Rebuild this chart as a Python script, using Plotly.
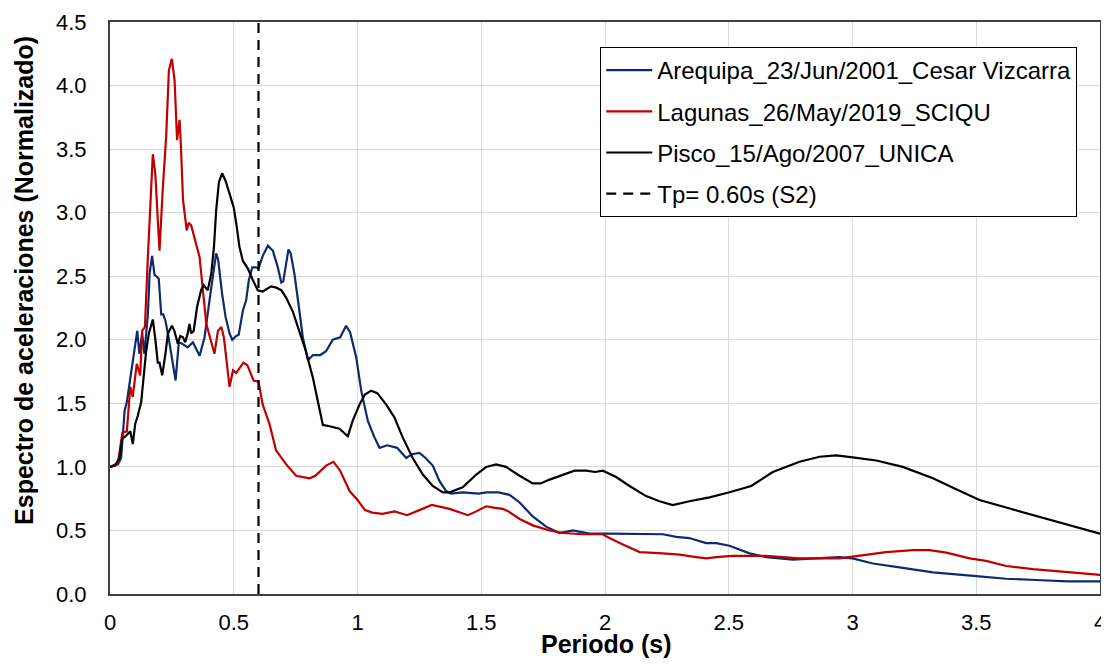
import plotly.graph_objects as go

# ---------------- data ----------------
are_x = [0, 0.032, 0.045, 0.059, 0.068, 0.086, 0.099, 0.11, 0.119, 0.13, 0.139, 0.153, 0.16, 0.17, 0.18, 0.188,
         0.197, 0.207, 0.215, 0.224, 0.234, 0.247, 0.265, 0.278, 0.29, 0.314, 0.335, 0.362, 0.382, 0.402, 0.42,
         0.429, 0.437, 0.453, 0.467, 0.483, 0.494, 0.51, 0.52, 0.537, 0.55, 0.561, 0.575, 0.59, 0.6, 0.617, 0.638,
         0.658, 0.678, 0.692, 0.7, 0.712, 0.721, 0.73, 0.745, 0.763, 0.779, 0.8, 0.82, 0.85, 0.873, 0.9, 0.93,
         0.954, 0.97, 0.995, 1.015, 1.042, 1.069, 1.089, 1.12, 1.16, 1.197, 1.22, 1.25, 1.275, 1.304, 1.331, 1.358,
         1.378, 1.425, 1.49, 1.52, 1.57, 1.614, 1.655, 1.708, 1.762, 1.816, 1.87, 1.9, 1.937, 2.018, 2.126, 2.234,
         2.288, 2.34, 2.409, 2.45, 2.503, 2.543, 2.584, 2.651, 2.759, 2.85, 2.947, 3.0, 3.082, 3.19, 3.325, 3.5,
         3.621, 3.742, 3.87, 4.0]
are_y = [1.0, 1.02, 1.07, 1.44, 1.51, 1.76, 1.91, 2.07, 1.89, 2.05, 1.89, 2.20, 2.52, 2.66, 2.51, 2.50,
         2.48, 2.20, 2.20, 2.15, 2.05, 1.89, 1.68, 1.98, 1.97, 1.94, 1.98, 1.875, 2.02, 2.31, 2.57,
         2.68, 2.63, 2.36, 2.18, 2.05, 2.0, 2.03, 2.04, 2.23, 2.31, 2.47, 2.57, 2.57, 2.56, 2.66, 2.74,
         2.70, 2.57, 2.45, 2.46, 2.60, 2.71, 2.68, 2.52, 2.26, 2.02, 1.84, 1.88, 1.88, 1.91, 2.0, 2.02,
         2.11, 2.06, 1.86, 1.6, 1.36, 1.23, 1.15, 1.17, 1.15, 1.07, 1.10, 1.11, 1.07, 1.01, 0.89, 0.81,
         0.79, 0.80, 0.79, 0.80, 0.80, 0.78, 0.72, 0.61, 0.53, 0.48, 0.50, 0.49, 0.475, 0.475, 0.47, 0.47,
         0.45, 0.44, 0.40, 0.40, 0.38, 0.35, 0.32, 0.29, 0.27, 0.28, 0.29, 0.28, 0.24, 0.21, 0.17, 0.14,
         0.12, 0.11, 0.10, 0.10]

lag_x = [0, 0.032, 0.05, 0.068, 0.082, 0.092, 0.108, 0.122, 0.13, 0.141, 0.153, 0.166, 0.173, 0.183, 0.2,
         0.213, 0.227, 0.238, 0.25, 0.261, 0.267, 0.271, 0.281, 0.286, 0.295, 0.31, 0.318, 0.328, 0.362, 0.389,
         0.422, 0.436, 0.45, 0.46, 0.483, 0.497, 0.51, 0.539, 0.555, 0.58, 0.6, 0.617, 0.644, 0.671, 0.712,
         0.752, 0.806, 0.83, 0.873, 0.903, 0.93, 0.968, 1.0, 1.03, 1.06, 1.1, 1.15, 1.2, 1.25, 1.3, 1.372,
         1.412, 1.446, 1.48, 1.52, 1.55, 1.587, 1.61, 1.655, 1.708, 1.776, 1.83, 1.91, 1.99, 2.018, 2.072,
         2.14, 2.234, 2.3, 2.369, 2.409, 2.45, 2.516, 2.65, 2.786, 2.947, 3.028, 3.136, 3.244, 3.311, 3.379,
         3.473, 3.54, 3.621, 3.729, 3.863, 4.0]
lag_y = [1.0, 1.03, 1.27, 1.28, 1.63, 1.55, 1.81, 1.72, 2.07, 2.10, 2.65, 3.25, 3.46, 3.31, 2.70,
         3.18, 3.60, 4.12, 4.21, 4.04, 3.73, 3.57, 3.73, 3.55, 3.10, 2.86, 2.92, 2.90, 2.65, 2.125,
         1.89, 2.07, 2.10, 2.02, 1.63, 1.76, 1.74, 1.82, 1.80, 1.68, 1.67, 1.49, 1.34, 1.13, 1.02,
         0.93, 0.91, 0.93, 1.01, 1.04, 0.97, 0.81, 0.74, 0.66, 0.64, 0.63, 0.65, 0.62, 0.66, 0.70, 0.67,
         0.64, 0.62, 0.65, 0.69, 0.68, 0.67, 0.65, 0.59, 0.54, 0.50, 0.48, 0.47, 0.47, 0.44, 0.39,
         0.33, 0.32, 0.31, 0.29, 0.28, 0.29, 0.30, 0.30, 0.28, 0.28, 0.30, 0.33, 0.345, 0.345, 0.325,
         0.28, 0.26, 0.22, 0.195, 0.17, 0.15]

pis_x = [0, 0.02, 0.038, 0.049, 0.065, 0.082, 0.092, 0.102, 0.112, 0.126, 0.137, 0.146, 0.157, 0.173, 0.184,
         0.193, 0.2, 0.211, 0.224, 0.234, 0.25, 0.26, 0.274, 0.284, 0.295, 0.304, 0.314, 0.321, 0.328, 0.338,
         0.352, 0.368, 0.378, 0.395, 0.409, 0.42, 0.429, 0.44, 0.453, 0.467, 0.483, 0.5, 0.512, 0.523, 0.537,
         0.557, 0.577, 0.597, 0.617, 0.635, 0.651, 0.672, 0.692, 0.712, 0.739, 0.766, 0.79, 0.82, 0.84, 0.86,
         0.887, 0.927, 0.961, 0.98, 1.008, 1.03, 1.055, 1.08, 1.116, 1.149, 1.183, 1.223, 1.264, 1.304, 1.345,
         1.372, 1.425, 1.48, 1.52, 1.56, 1.6, 1.655, 1.708, 1.74, 1.776, 1.83, 1.877, 1.924, 1.96, 1.991,
         2.045, 2.099, 2.166, 2.22, 2.274, 2.341, 2.422, 2.503, 2.591, 2.678, 2.786, 2.867, 2.934, 3.001,
         3.096, 3.203, 3.325, 3.419, 3.513, 3.621, 3.729, 3.863, 4.0]
pis_y = [1.0, 1.01, 1.07, 1.22, 1.245, 1.28, 1.18, 1.34, 1.40, 1.51, 1.73, 1.91, 2.05, 2.16, 1.99,
         1.82, 1.82, 1.72, 1.89, 2.05, 2.11, 2.07, 1.97, 2.03, 2.02, 1.98, 2.05, 2.125, 2.05, 2.07,
         2.26, 2.39, 2.43, 2.39, 2.52, 2.73, 3.02, 3.24, 3.31, 3.25, 3.15, 3.04, 2.89, 2.73, 2.62,
         2.56, 2.47, 2.39, 2.38, 2.40, 2.42, 2.41, 2.39, 2.33, 2.22, 2.06, 1.92, 1.70, 1.52, 1.33,
         1.32, 1.30, 1.24, 1.36, 1.49, 1.57, 1.60, 1.58, 1.49, 1.39, 1.23, 1.07, 0.94, 0.85, 0.80,
         0.80, 0.84, 0.94, 1.0, 1.02, 1.0, 0.93, 0.87, 0.87, 0.90, 0.94, 0.97, 0.97, 0.96, 0.97,
         0.92, 0.85, 0.77, 0.73, 0.70, 0.73, 0.76, 0.80, 0.85, 0.96, 1.04, 1.08, 1.09, 1.075,
         1.05, 1.0, 0.91, 0.825, 0.74, 0.68, 0.62, 0.55, 0.475]

tp_value = 0.60
y_range = [0, 4.5]
x_range = [0, 4]

names = ["Arequipa_23/Jun/2001_Cesar Vizcarra",
         "Lagunas_26/May/2019_SCIQU",
         "Pisco_15/Ago/2007_UNICA",
         "Tp= 0.60s (S2)"]
x_title = "Periodo (s)"
y_title = "Espectro de aceleraciones (Normalizado)"

# ---------------- figure ----------------
fig = go.Figure()
fig.add_trace(go.Scatter(x=are_x, y=are_y, mode="lines", name=names[0], legendgroup="a",
                         line=dict(color="#0E2A6E", width=2.2)))
fig.add_trace(go.Scatter(x=lag_x, y=lag_y, mode="lines", name=names[1], legendgroup="b",
                         line=dict(color="#C00000", width=2.2)))
fig.add_trace(go.Scatter(x=pis_x, y=pis_y, mode="lines", name=names[2], legendgroup="c",
                         line=dict(color="#000000", width=2.2)))
fig.add_trace(go.Scatter(x=[tp_value, tp_value], y=y_range, mode="lines", name=names[3], legendgroup="d",
                         line=dict(color="#000000", width=2.2, dash="10px,7px")))

font_family = "Liberation Sans, Arial, sans-serif"

# the page body adds an 8px offset; the figure is sized so it fits the window exactly
fig.update_layout(
    width=1101, height=656,
    margin=dict(l=102, r=9, t=14, b=70, autoexpand=False),
    paper_bgcolor="white", plot_bgcolor="white",
    font=dict(family=font_family, color="#000000"),
    showlegend=True,
    legend=dict(
        x=0.977, y=0.9563, xanchor="right", yanchor="top",
        bgcolor="white", bordercolor="#000000", borderwidth=1,
        font=dict(size=24, family=font_family, color="#000000"),
        traceorder="grouped", tracegroupgap=7,
        itemwidth=46,
    ),
    xaxis=dict(
        range=x_range, tickvals=[0, 0.5, 1, 1.5, 2, 2.5, 3, 3.5, 4],
        ticktext=["0", "0.5", "1", "1.5", "2", "2.5", "3", "3.5", "4"],
        showgrid=True, gridcolor="#D9D9D9", gridwidth=1,
        showline=True, linecolor="#404040", linewidth=2, mirror=True,
        ticks="", zeroline=False, automargin=False,
        tickfont=dict(size=22, family=font_family, color="#000000"),
        ticklabelstandoff=8,
    ),
    yaxis=dict(
        range=y_range, tickvals=[0, 0.5, 1, 1.5, 2, 2.5, 3, 3.5, 4, 4.5],
        tickformat=".1f",
        showgrid=True, gridcolor="#D9D9D9", gridwidth=1,
        showline=True, linecolor="#404040", linewidth=2, mirror=True,
        ticks="", zeroline=False, automargin=False,
        tickfont=dict(size=22, family=font_family, color="#000000"),
        ticklabelstandoff=17,
    ),
    annotations=[
        dict(text="<b>" + x_title + "</b>", xref="paper", yref="paper", x=0.502, y=0,
             xanchor="center", yanchor="middle", yshift=-50, showarrow=False,
             font=dict(size=25, family=font_family, color="#000000")),
        dict(text="<b>" + y_title + "</b>", xref="paper", yref="paper", x=-0.0869, y=0.549,
             xanchor="center", yanchor="middle", textangle=-90, showarrow=False,
             font=dict(size=25, family=font_family, color="#000000")),
    ],
)

fig.write_html("out.html")
